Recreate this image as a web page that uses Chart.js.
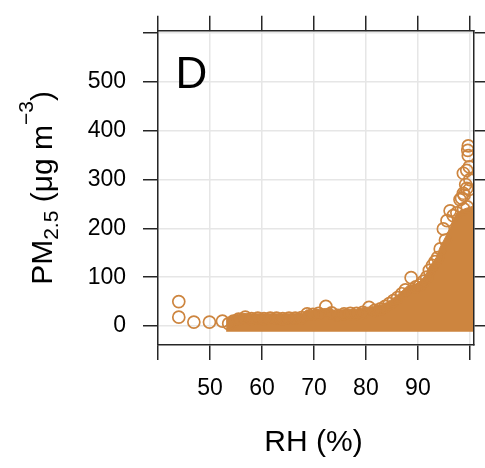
<!DOCTYPE html>
<html>
<head>
<meta charset="utf-8">
<script src="https://cdn.jsdelivr.net/npm/chart.js@4/dist/chart.umd.min.js"></script>
<style>
  html, body { margin: 0; padding: 0; background: #fff; }
  #wrap { width: 485px; height: 468px; position: relative; }
</style>
</head>
<body>
<div id="wrap"><canvas id="chart" width="485" height="468"></canvas></div>
<script>
const FONT  = '"Liberation Sans", Arial, sans-serif';
const PERU  = '#cd853f';
const INK   = '#000000';
const PANEL_LABEL = 'D';
const X_TITLE = 'RH (%)';

const X_TICKS  = [40, 50, 60, 70, 80, 90, 100];
const X_LABELS = [50, 60, 70, 80, 90];
const Y_TICKS  = [0, 100, 200, 300, 400, 500, 600];
const Y_LABELS = [0, 100, 200, 300, 400, 500];

// outline of the dense cloud (top edge), filled down to its bottom edge
const BLOB_RH  = [53.1, 54.0, 55.0, 56.0, 57.0, 58.0, 60.0, 62.0, 64.0, 66.0, 67.8, 68.6, 69.5, 71.0, 72.3, 73.3, 74.0, 76.0, 78.0, 80.0, 81.5, 83.0, 84.0, 85.0, 86.0, 87.0, 88.0, 89.5, 90.1, 91.0, 91.6, 92.1, 93.0, 93.5, 94.3, 95.0, 95.6, 96.2, 96.8, 97.5, 98.5, 99.5, 100.8];
const BLOB_TOP = [14, 20, 23, 25, 26, 25, 25, 25, 25, 25, 26, 33, 32, 34, 36, 36, 31, 34, 34, 38, 40, 44, 48, 55, 63, 72, 82, 86, 89, 98, 106, 120, 132, 140, 162, 176, 188, 200, 218, 232, 238, 242, 246];
const BLOB_BASE = -12;

// single circles along the edge of the cloud
const EDGE_RH = [53.6, 54.5, 55.5, 56.8, 58.0, 59.2, 60.4, 61.6, 62.8, 64.0, 65.2, 66.4, 67.6, 68.7, 69.8, 70.9, 72.3, 73.4, 74.6, 75.8, 77.0, 78.2, 79.4, 80.6, 81.7, 82.8, 83.7, 84.5, 85.3, 86.1, 86.9, 87.6, 88.7, 89.6, 90.4, 91.1, 91.7, 92.2, 92.8, 93.3, 93.8, 94.3, 94.9, 95.3, 95.6, 96.2, 96.8, 97.5, 98.1, 98.8, 99.5];
const EDGE_PM = [5, 10, 14, 18, 15, 16, 15, 16, 16, 15, 16, 16, 17, 25, 24, 26, 40, 27, 22, 25, 26, 26, 28, 38, 32, 35, 40, 46, 52, 58, 66, 74, 99, 80, 84, 92, 100, 114, 124, 132, 140, 158, 199, 176, 216, 236, 226, 232, 259, 240, 244];

// isolated points
const LOW_RH  = [44.0, 44.0, 46.9, 49.9, 52.4];
const LOW_PM  = [50, 18, 8, 8, 10];
const HIGH_RH = [99.7, 99.6, 99.7, 99.9, 99.4, 98.75, 99.2, 99.4, 99.9, 98.75, 98.9, 100.0, 98.4];
const HIGH_PM = [369, 360, 349, 326, 319, 313, 290, 282, 280, 272, 268, 300, 262];

const toPoints = (xs, ys) => xs.map((x, i) => ({ x: x, y: ys[i] }));

const circleStyle = {
    pointStyle: 'circle',
    pointRadius: 6,
    pointBorderWidth: 1.7,
    pointBorderColor: PERU,
    pointBackgroundColor: 'rgba(0,0,0,0)',
    pointHoverRadius: 6,
    clip: 0,
};

const gridStyle = {
    color: '#e6e6e6',
    lineWidth: 1.5,
    tickColor: '#262626',
    tickWidth: 1.5,
    tickLength: 15,
};
const borderStyle = { color: '#262626', width: 1.5, z: 1 };

const setXTicks = s => { s.ticks = X_TICKS.map(v => ({ value: v })); };
const setYTicks = s => { s.ticks = Y_TICKS.map(v => ({ value: v })); };

const textPlugin = {
    id: 'panelText',
    afterDraw(chart) {
        const { ctx, chartArea } = chart;
        ctx.save();
        ctx.fillStyle = INK;

        ctx.font = '44px ' + FONT;
        ctx.textAlign = 'left';
        ctx.textBaseline = 'alphabetic';
        ctx.fillText(PANEL_LABEL, chartArea.left + 17.5, chartArea.top + 57);

        ctx.font = '30px ' + FONT;
        ctx.textAlign = 'center';
        ctx.textBaseline = 'middle';
        ctx.fillText(X_TITLE, 313.5, 443);

        drawYTitle(ctx, 51.5, 188);
        ctx.restore();
    }
};

function drawYTitle(ctx, bx, cy) {
    const big = '30px ' + FONT, small = '21px ' + FONT;
    const parts = [
        { t: 'PM',      f: big,   dy: 0 },
        { t: '2.5',     f: small, dy: 6 },
        { t: ' (\u03bcg m', f: big, dy: 0 },
        { t: '\u22123', f: small, dy: -19 },
        { t: ')',       f: big,   dy: 0 },
    ];
    let total = 0;
    parts.forEach(p => { ctx.font = p.f; p.w = ctx.measureText(p.t).width; total += p.w; });

    ctx.save();
    ctx.translate(bx, cy);
    ctx.rotate(-Math.PI / 2);
    ctx.textAlign = 'left';
    ctx.textBaseline = 'alphabetic';
    let x = -total / 2;
    parts.forEach(p => {
        ctx.font = p.f;
        ctx.fillText(p.t, x, p.dy);
        x += p.w;
    });
    ctx.restore();
}

new Chart(document.getElementById('chart'), {
    type: 'scatter',
    data: {
        datasets: [
            {
                type: 'line',
                data: toPoints(BLOB_RH, BLOB_TOP),
                borderColor: PERU,
                borderWidth: 1,
                backgroundColor: PERU,
                pointRadius: 0,
                tension: 0,
                fill: { value: BLOB_BASE },
                clip: 0,
                order: 3,
            },
            { data: toPoints(EDGE_RH, EDGE_PM), ...circleStyle, order: 2 },
            { data: toPoints(LOW_RH, LOW_PM), ...circleStyle, order: 1 },
            { data: toPoints(HIGH_RH, HIGH_PM), ...circleStyle, order: 1 },
        ]
    },
    options: {
        responsive: false,
        animation: false,
        events: [],
        layout: { padding: 0 },
        plugins: {
            legend: { display: false },
            tooltip: { enabled: false },
        },
        scales: {
            x: {
                type: 'linear', position: 'bottom', min: 40, max: 100.8,
                afterBuildTicks: setXTicks,
                afterFit: s => { s.height = 123; },
                grid: gridStyle,
                border: borderStyle,
                ticks: {
                    padding: 15, color: INK, maxRotation: 0, autoSkip: false,
                    font: { family: FONT, size: 23 },
                    callback: v => X_LABELS.includes(v) ? String(v) : '',
                },
            },
            xTop: {
                type: 'linear', position: 'top', min: 40, max: 100.8,
                afterBuildTicks: setXTicks,
                afterFit: s => { s.height = 25; },
                grid: { ...gridStyle, drawOnChartArea: false },
                border: borderStyle,
                ticks: { display: false },
            },
            y: {
                type: 'linear', position: 'left', min: -39, max: 605,
                afterBuildTicks: setYTicks,
                afterFit: s => { s.width = 158; },
                grid: gridStyle,
                border: borderStyle,
                ticks: {
                    padding: 17, color: INK, autoSkip: false,
                    font: { family: FONT, size: 23 },
                    callback: v => Y_LABELS.includes(v) ? String(v) : '',
                },
            },
            yRight: {
                type: 'linear', position: 'right', min: -39, max: 605,
                afterBuildTicks: setYTicks,
                afterFit: s => { s.width = 8; },
                grid: { ...gridStyle, drawOnChartArea: false },
                border: borderStyle,
                ticks: { display: false },
            },
        }
    },
    plugins: [textPlugin]
});
</script>
</body>
</html>
